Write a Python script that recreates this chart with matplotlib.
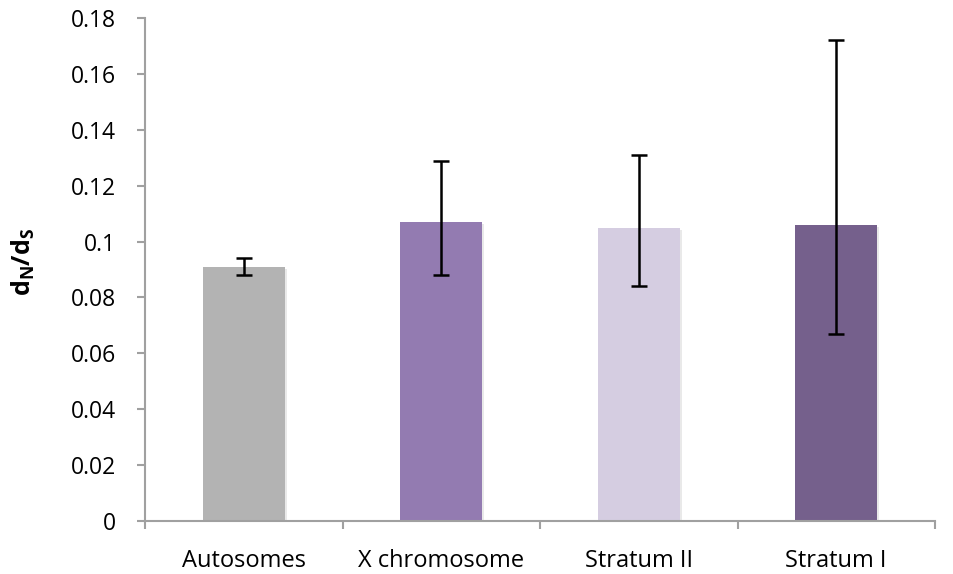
import matplotlib
matplotlib.use("Agg")
import matplotlib.pyplot as plt
import matplotlib.patheffects as pe
import numpy as np

categories = ["Autosomes", "X chromosome", "Stratum II", "Stratum I"]
values = [0.091, 0.107, 0.105, 0.106]
err_low = [0.088, 0.088, 0.084, 0.067]
err_high = [0.094, 0.129, 0.131, 0.172]
colors = ["#b3b3b3", "#937bb1", "#d5cde1", "#75608c"]
yticks = [0, 0.02, 0.04, 0.06, 0.08, 0.1, 0.12, 0.14, 0.16, 0.18]
ytick_labels = ["0", "0.02", "0.04", "0.06", "0.08", "0.1", "0.12", "0.14", "0.16", "0.18"]

plt.rcParams['font.family'] = ['Open Sans', 'DejaVu Sans']
plt.rcParams['mathtext.fontset'] = 'custom'
plt.rcParams['mathtext.bf'] = 'Open Sans:bold'
plt.rcParams['mathtext.rm'] = 'Open Sans'

fig = plt.figure(figsize=(9.54, 5.74), dpi=100)
ax = fig.add_axes([145/954, 1-521/574, (935-145)/954, (521-18)/574])

x = np.arange(len(categories))
yerr = [np.array(values) - np.array(err_low), np.array(err_high) - np.array(values)]
bars = ax.bar(x, values, width=0.415, color=colors, zorder=2)
for b in bars:
    b.set_path_effects([pe.SimplePatchShadow(offset=(1.5, -1.5), shadow_rgbFace='#aaaaaa', alpha=0.25), pe.Normal()])
ax.errorbar(x, values, yerr=yerr, fmt='none', ecolor='black', elinewidth=1.8, capsize=6, capthick=1.8, zorder=3)

ax.set_xlim(-0.5, len(categories) - 0.5)
ax.set_ylim(0, 0.18)
ax.set_yticks(yticks)
ax.set_yticklabels(ytick_labels, fontsize=16.5)
ax.set_xticks(x)
ax.set_xticklabels(categories, fontsize=17)
ax.tick_params(axis='x', length=0, pad=20)
ax.set_xticks(np.arange(-0.5, len(categories), 1), minor=True)
ax.tick_params(axis='x', which='minor', length=6, color='#a0a0a0', width=1.5)
ax.tick_params(axis='y', length=6, color='#a0a0a0', width=1.5, pad=15)

for s in ['top', 'right']:
    ax.spines[s].set_visible(False)
for s in ['left', 'bottom']:
    ax.spines[s].set_color('#a0a0a0')
    ax.spines[s].set_linewidth(1.5)

fig.text(23/954, 1-262/574, r"$\mathbf{d_N/d_S}$", fontsize=18, rotation=90, ha='center', va='center')

fig.savefig("out.png", dpi=100)
